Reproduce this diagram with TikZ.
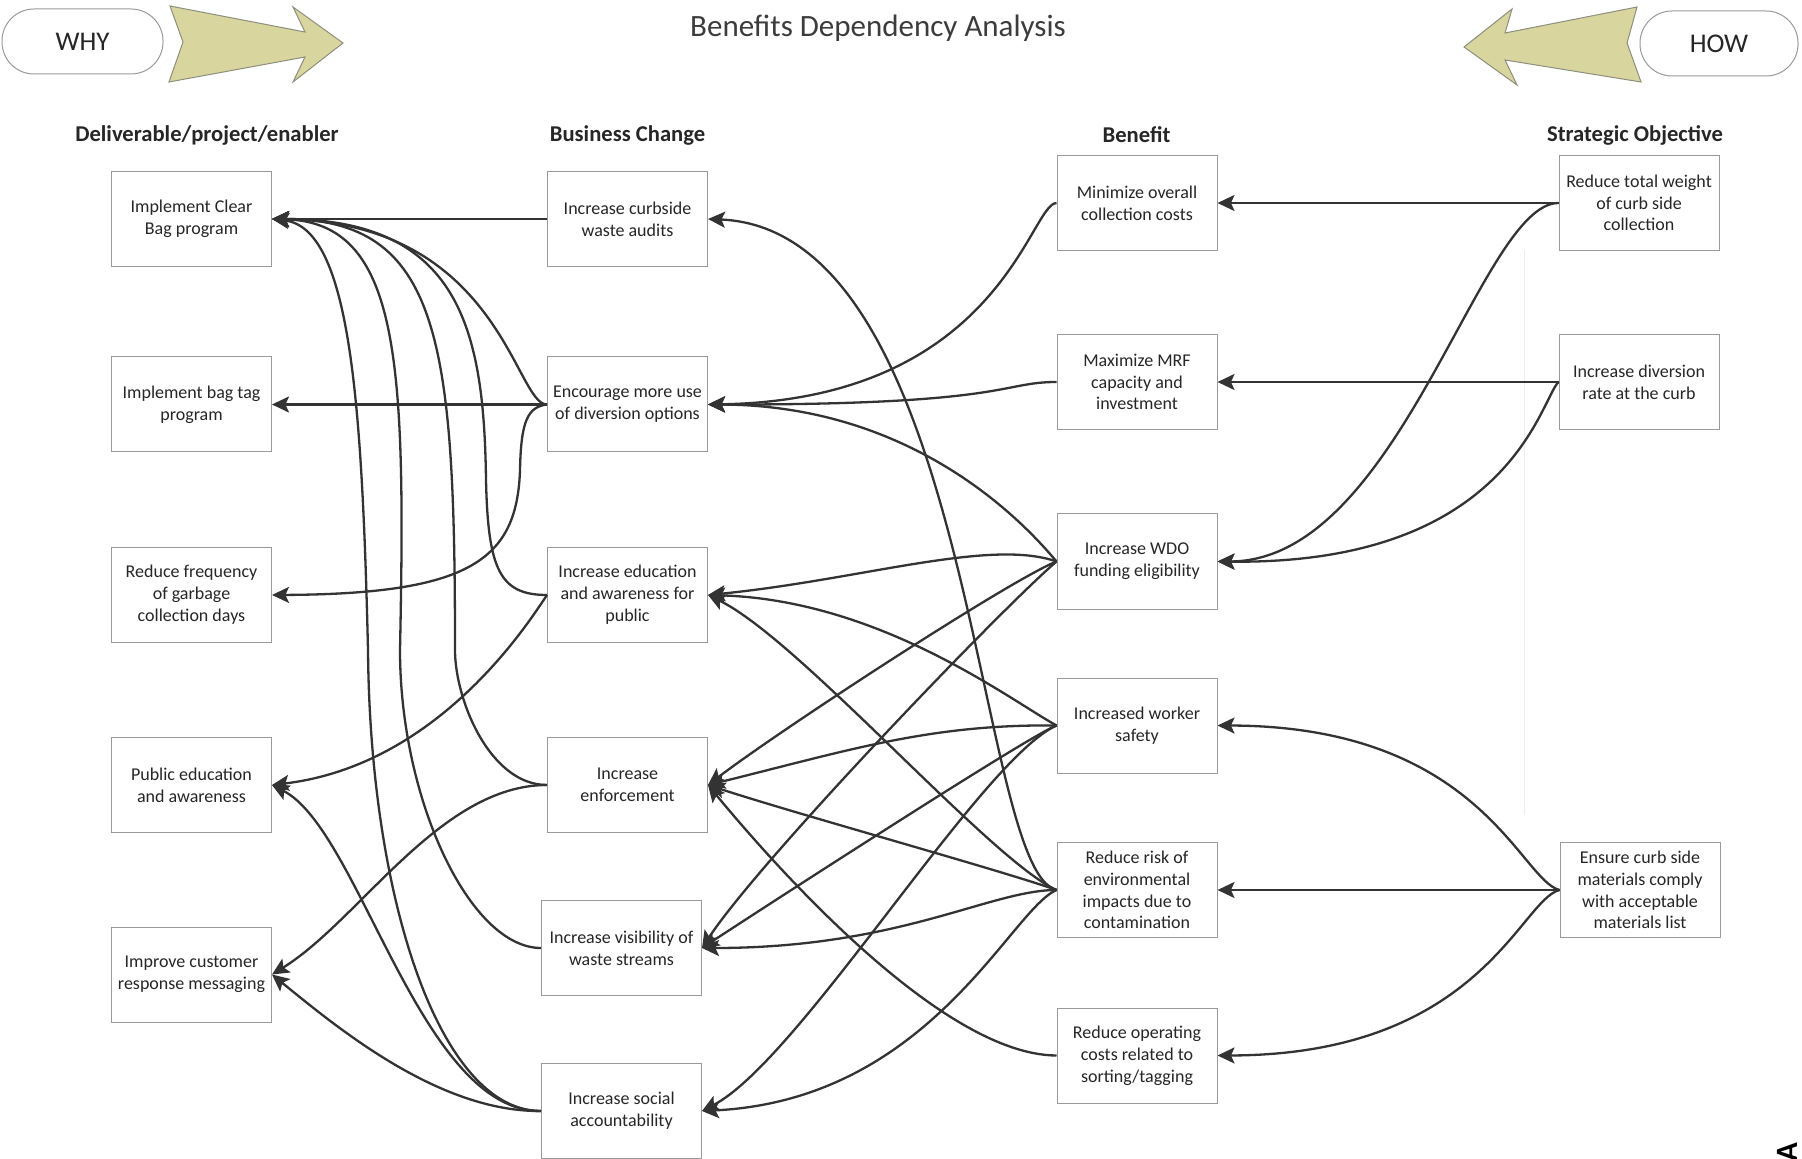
\documentclass[tikz,border=0pt]{standalone}
\usepackage{fontspec}
\setmainfont{Carlito}
\usetikzlibrary{arrows.meta}
\definecolor{boxline}{HTML}{9A9A9A}
\definecolor{conn}{HTML}{333333}
\definecolor{arrowfill}{HTML}{D8D69E}
\definecolor{arrowline}{HTML}{8E8E7E}
\definecolor{txt}{HTML}{262626}
\begin{document}
\begin{tikzpicture}[x=0.5pt,y=-0.5pt,
  box/.style={draw=boxline, line width=0.5pt, minimum width=80pt, minimum height=47.5pt, inner sep=1pt, align=center, font=\fontsize{9}{10.9}\selectfont, text=txt},
  hdr/.style={font=\fontsize{11.3}{13}\selectfont\bfseries, text=txt},
  link/.style={draw=conn, line width=1.15pt, -{Stealth[length=8.5pt,width=8pt,inset=1.8pt]}},
  pill/.style={draw=boxline, line width=0.5pt, rounded corners=16pt, minimum width=80.5pt, minimum height=32.5pt, font=\fontsize{13.5}{15}\selectfont, text=txt},
  bigarrow/.style={fill=arrowfill, draw=arrowline, line width=0.5pt, line join=miter}
]
\useasboundingbox[fill=white] (0,0) rectangle (1802,1159);

% faint vertical artefact
\draw[black!7, line width=0.5pt] (1524,250) -- (1524,815);

% title and WHY / HOW
\node[font=\fontsize{15.5}{18}\selectfont, text=txt!90] (title) at (878,28.5) {Benefits Dependency Analysis};
\node[pill] (why) at (82.5,41.5) {WHY};
\node[pill, minimum width=79pt] (how) at (1719,43.5) {HOW};
\draw[bigarrow] (170,6) -- (305,32) -- (293,7) -- (343,43) -- (293,82) -- (305,57) -- (169,82) -- (183,42) -- cycle;
\draw[bigarrow] (1637,7) -- (1505,33) -- (1512,9) -- (1464,47) -- (1517,85) -- (1505,60) -- (1641,82) -- (1627,43) -- cycle;

% headers
\node[hdr] (h1) at (207,135) {Deliverable/project/enabler};
\node[hdr] (h2) at (627.5,135) {Business Change};
\node[hdr] (h3) at (1136.5,135) {Benefit};
\node[hdr] (h4) at (1635,135) {Strategic Objective};

% deliverables
\node[box] (d1) at (191.5,219) {Implement Clear\\Bag program};
\node[box] (d2) at (191.5,404.5) {Implement bag tag\\program};
\node[box] (d3) at (191.5,595) {Reduce frequency\\of garbage\\collection days};
\node[box] (d4) at (191.5,785) {Public education\\and awareness};
\node[box] (d5) at (191.5,974.5) {Improve customer\\response messaging};

% business changes
\node[box] (c1) at (627.5,219) {Increase curbside\\waste audits};
\node[box] (c2) at (627.5,404.5) {Encourage more use\\of diversion options};
\node[box] (c3) at (627.5,595) {Increase education\\and awareness for\\public};
\node[box] (c4) at (627.5,785) {Increase\\enforcement};
\node[box] (c5) at (621.5,948) {Increase visibility of\\waste streams};
\node[box] (c6) at (621.5,1111) {Increase social\\accountability};

% benefits
\node[box] (b1) at (1137,203) {Minimize overall\\collection costs};
\node[box] (b2) at (1137,382) {Maximize MRF\\capacity and\\investment};
\node[box] (b3) at (1137,561.5) {Increase WDO\\funding eligibility};
\node[box] (b4) at (1137,725.5) {Increased worker\\safety};
\node[box] (b5) at (1137,890) {Reduce risk of\\environmental\\impacts due to\\contamination};
\node[box] (b6) at (1137,1055.5) {Reduce operating\\costs related to\\sorting/tagging};

% strategic objectives
\node[box] (s1) at (1639,203) {Reduce total weight\\of curb side\\collection};
\node[box] (s2) at (1639,382) {Increase diversion\\rate at the curb};
\node[box] (s3) at (1640,890) {Ensure curb side\\materials comply\\with acceptable\\materials list};

% strategic -> benefit
\draw[link] (s1.west) -- (b1.east);
\draw[link] (s1.west) .. controls (1480,203) and (1400,561) .. (b3.east);
\draw[link] (s2.west) -- (b2.east);
\draw[link] (s2.west) .. controls (1540,400) and (1510,565) .. (b3.east);
\draw[link] (s3.west) .. controls (1520,880) and (1480,726) .. (b4.east);
\draw[link] (s3.west) -- (b5.east);
\draw[link] (s3.west) .. controls (1520,900) and (1480,1055) .. (b6.east);

% benefit -> business change
\draw[link] (b1.west) .. controls (1030,203) and (1000,400) .. (c2.east);
\draw[link] (b2.west) .. controls (1000,382) and (1010,405) .. (c2.east);
\draw[link] (b3.west) .. controls (1030,530) and (920,405) .. (c2.east);
\draw[link] (b3.west) .. controls (990,538) and (860,580) .. (c3.east);
\draw[link] (b3.west) .. controls (1010,580) and (780,730) .. (c4.east);
\draw[link] (b3.west) .. controls (1000,610) and (760,860) .. (c5.east);
\draw[link] (b4.west) .. controls (1010,700) and (880,600) .. (c3.east);
\draw[link] (b4.west) .. controls (930,724) and (850,750) .. (c4.east);
\draw[link] (b4.west) .. controls (1030,735) and (760,910) .. (c5.east);
\draw[link] (b4.west) .. controls (980,760) and (800,1060) .. (c6.east);
\draw[link] (b5.west) .. controls (975,870) and (975,230) .. (c1.east);
\draw[link] (b5.west) .. controls (990,860) and (800,640) .. (c3.east);
\draw[link] (b5.west) .. controls (1000,870) and (800,815) .. (c4.east);
\draw[link] (b5.west) .. controls (990,890) and (900,948) .. (c5.east);
\draw[link] (b5.west) .. controls (1010,910) and (930,1100) .. (c6.east);
\draw[link] (b6.west) .. controls (940,1055) and (770,860) .. (c4.east);

% business change -> deliverable
\draw[link] (c1.west) -- (d1.east);
\draw[link] (c2.west) .. controls (515,405) and (500,222) .. (d1.east);
\draw[link] (c3.west) .. controls (500,595) and (488,570) .. (486,480) .. controls (484,330) and (460,219) .. (d1.east);
\draw[link] (c4.west) .. controls (490,785) and (455,700) .. (455,650) .. controls (455,340) and (440,219) .. (d1.east);
\draw[link] (c5.west) .. controls (470,948) and (400,800) .. (400,650) .. controls (406,360) and (400,222) .. (d1.east);
\draw[link] (c6.west) .. controls (440,1111) and (370,900) .. (368,650) .. controls (362,400) and (350,228) .. (d1.east);
\draw[link] (c2.west) -- (d2.east);
\draw[link] (c2.west) .. controls (528,407) and (521,420) .. (520,470) .. controls (517,560) and (470,594) .. (d3.east);
\draw[link] (c3.west) .. controls (530,620) and (440,765) .. (d4.east);
\draw[link] (c6.west) .. controls (420,1112) and (360,830) .. (d4.east);
\draw[link] (c4.west) .. controls (440,785) and (360,920) .. (d5.east);
\draw[link] (c6.west) .. controls (440,1112) and (340,1030) .. (d5.east);

% cut-off letter at the bottom right
\node[font=\fontsize{15.5}{18}\selectfont\bfseries, text=black, rotate=90, inner sep=0pt] (lettera) at (1787,1152) {A};
\end{tikzpicture}
\end{document}
